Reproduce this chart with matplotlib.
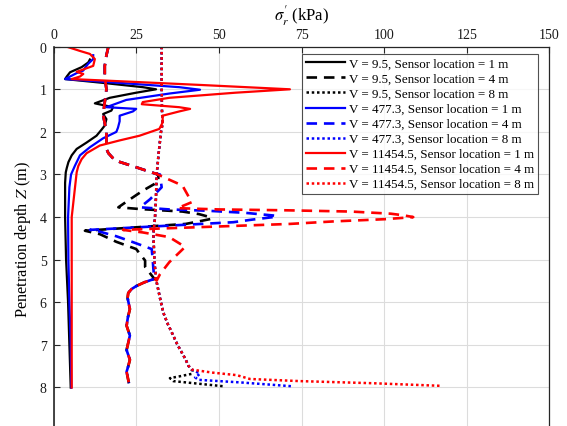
import matplotlib
matplotlib.use("Agg")
import matplotlib.pyplot as plt
import numpy as np

plt.rcParams['font.family'] = ['Liberation Serif', 'DejaVu Serif']
plt.rcParams['mathtext.fontset'] = 'stix'

# ---------------- data (depth Z in m, sigma'_r in kPa) ----------------
# Sensor location = 1 m
black1_z = [0.3, 0.37, 0.48, 0.6, 0.7, 0.76, 0.85, 0.95, 1.0, 1.08, 1.2, 1.33, 1.42, 1.5, 1.58, 1.7, 1.85, 1.95, 2.09, 2.25, 2.4, 2.55, 2.71, 2.85, 2.95, 3.2, 4.0, 5.0, 6.0, 7.0, 8.0]
black1_v = [11, 10.5, 8.5, 5, 4, 3.5, 15, 27, 31, 25, 17, 12.5, 18, 17.5, 15, 16, 15.5, 14.5, 13, 10, 7, 5.5, 4.5, 4, 3.7, 3.5, 3.5, 3.8, 4.4, 4.8, 5.2]

blue1_z = [0.2, 0.29, 0.4, 0.5, 0.56, 0.62, 0.7, 0.76, 0.85, 0.95, 1.01, 1.1, 1.25, 1.42, 1.46, 1.52, 1.62, 1.75, 1.9, 2.0, 2.15, 2.36, 2.55, 2.79, 3.0, 3.3, 4.0, 5.0, 6.0, 7.0, 8.0]
blue1_v = [12, 12, 10.5, 9.5, 9, 7, 5, 3.5, 20, 38, 44.3, 35, 22, 16, 25, 24, 20, 20, 19.5, 19, 15, 11, 8, 6.5, 5.3, 4.8, 4.4, 4.5, 4.8, 5.2, 5.4]

red1_z = [0, 0.1, 0.17, 0.29, 0.45, 0.52, 0.59, 0.64, 0.7, 0.76, 0.8, 0.9, 1.0, 1.08, 1.2, 1.3, 1.35, 1.42, 1.46, 1.52, 1.62, 1.78, 1.93, 2.09, 2.2, 2.32, 2.5, 2.64, 2.8, 2.95, 3.3, 4.0, 5.0, 6.0, 7.0, 8.0]
red1_v = [4, 8, 11, 12.5, 12, 9.5, 7, 9, 8, 5.5, 17, 45, 71.5, 55, 35, 27, 26.7, 38, 41.3, 38, 33, 33, 32, 26, 20, 14, 10, 8.5, 7.5, 7, 6.5, 5.5, 5.5, 5.5, 5.5, 5.5]

# Sensor location = 4 m (common upper and lower parts)
top4_z = [0, 0.2, 0.45, 0.7, 1.0, 1.3, 1.6, 2.0, 2.4, 2.5, 2.67, 2.83, 2.99]
top4_v = [16.6, 16, 15.5, 15.5, 16, 15.5, 15, 16, 16, 16.6, 18.6, 25, 31.2]
tail4_z = [5.45, 5.53, 5.62, 5.69, 5.78, 5.9, 6.16, 6.35, 6.55, 6.78, 6.95, 7.12, 7.35, 7.5, 7.63, 7.9]
tail4_v = [30.5, 27.5, 25, 23.6, 22.6, 22.4, 23.1, 22.5, 22.1, 23.1, 22.6, 22.1, 23.1, 22.6, 22.1, 22.8]

black4_z = [3.03, 3.17, 3.38, 3.61, 3.77, 3.81, 3.87, 3.93, 4.0, 4.04, 4.1, 4.16, 4.24, 4.32, 4.4, 4.58, 4.75, 5.02, 5.17, 5.3]
black4_v = [31.7, 31.7, 27, 22.6, 19.6, 26, 39, 44, 47.3, 47.8, 44, 40, 25, 9.5, 14, 19, 25, 27.7, 27.7, 29]

blue4_z = [3.0, 3.3, 3.58, 3.77, 3.82, 3.85, 3.9, 3.97, 4.0, 4.06, 4.12, 4.2, 4.3, 4.32, 4.45, 4.59, 4.75, 5.0, 5.22]
blue4_v = [32.2, 32.7, 29.2, 26.2, 35, 46.3, 58, 67.5, 66.5, 60, 54.4, 35, 11, 13, 19, 24.1, 29.7, 30, 30.2]

red4_z = [3.26, 3.4, 3.65, 3.79, 3.82, 3.84, 3.87, 3.92, 3.96, 4.0, 4.05, 4.1, 4.16, 4.22, 4.28, 4.3, 4.36, 4.47, 4.7, 5.06, 5.34]
red4_v = [39, 40, 41.8, 37.5, 50, 70, 90, 102, 106, 108.8, 100, 85, 71.5, 50, 28, 21, 27, 35, 39.8, 35, 32.2]

# Sensor location = 8 m (common part)
common8_z = [0, 0.5, 1.0, 1.5, 1.8, 2.0, 2.5, 3.0, 3.5, 4.0, 4.4, 5.0, 5.2, 5.53, 5.9, 6.24, 6.5, 6.78, 7.0, 7.18, 7.35, 7.49, 7.58]
common8_v = [32.7, 32.7, 32.7, 32.8, 33, 32.5, 31.8, 31.2, 31, 30.7, 30.2, 30.5, 30.7, 31.2, 32.2, 33.2, 34.5, 36.2, 37.5, 38.8, 40, 40.8, 41.8]
black8_z = [7.62, 7.68, 7.74, 7.78, 7.85, 7.92, 7.97]
black8_v = [42, 41.8, 38, 35.2, 36.2, 45, 51.3]
blue8_z = [7.62, 7.68, 7.76, 7.82, 7.88, 7.97]
blue8_v = [43, 44.3, 42.8, 43.8, 56.4, 72]
red8_z = [7.65, 7.71, 7.8, 7.85, 7.9, 7.96]
red8_v = [48, 55.4, 59.4, 74.5, 96.7, 116.9]

volumes = ['9.5', '477.3', '11454.5']
locations = ['1', '4', '8']
x_ticks = [0, 25, 50, 75, 100, 125, 150]
y_ticks = list(range(0, 10))

# ---------------- build series ----------------
s4 = {
    'black': (top4_z + black4_z + tail4_z, top4_v + black4_v + tail4_v),
    'blue': (top4_z + blue4_z + [5.44] + tail4_z, top4_v + blue4_v + [30.5] + tail4_v),
    'red': (top4_z + red4_z + [5.49] + tail4_z, top4_v + red4_v + [31.2] + tail4_v),
}
s1 = {'black': (black1_z, black1_v), 'blue': (blue1_z, blue1_v), 'red': (red1_z, red1_v)}
s8 = {
    'black': (common8_z + black8_z, common8_v + black8_v),
    'blue': (common8_z + blue8_z, common8_v + blue8_v),
    'red': (common8_z + red8_z, common8_v + red8_v),
}

fig = plt.figure(figsize=(5.67, 4.27), dpi=100)
ax = fig.add_axes([0.0944, -0.0096, 0.8747, 0.8979])

colors = {'black': 'black', 'blue': (0, 0, 1), 'red': (1, 0, 0)}
lw = 1.6
for vol, c in zip(volumes, ['black', 'blue', 'red']):
    z, v = s1[c]
    ax.plot(v, z, color=colors[c], lw=lw, linestyle='-',
            label=f'V = {vol}, Sensor location = {locations[0]} m')
    z, v = s4[c]
    ax.plot(v, z, color=colors[c], lw=lw + 0.3, linestyle=(0, (4, 2.6)),
            label=f'V = {vol}, Sensor location = {locations[1]} m')
    z, v = s8[c]
    ax.plot(v, z, color=colors[c], lw=lw + 0.2, linestyle=(0, (1, 1.1)),
            label=f'V = {vol}, Sensor location = {locations[2]} m')

ax.set_xlim(0, 150)
ax.set_ylim(9, 0)
ax.set_xticks(x_ticks)
ax.set_yticks(y_ticks)
ax.xaxis.tick_top()
ax.xaxis.set_label_position('top')
ax.tick_params(direction='in', length=4, width=0.8, colors='#262626',
               labelsize=10, labelcolor='#1a1a1a', pad=5)
ax.tick_params(axis='x', pad=4)
ax.grid(True, color='#dcdcdc', lw=0.8)
ax.set_axisbelow(True)
for sp in ax.spines.values():
    sp.set_color('#262626')
    sp.set_linewidth(0.9)
ax.spines['left'].set_linewidth(1.2)

ax.set_xlabel(r"$\sigma^{\prime}_{r}$ (kPa)", fontsize=12, labelpad=6)
ax.set_ylabel(r"Penetration depth $Z$ (m)", fontsize=11.8, labelpad=5)

leg = ax.legend(loc='upper right', bbox_to_anchor=(0.9775, 0.981), fontsize=9.4,
                frameon=True, fancybox=False, edgecolor='#262626',
                handlelength=3.0, handletextpad=0.3, borderpad=0.3,
                labelspacing=0.22, borderaxespad=0.0)
leg.get_frame().set_linewidth(0.8)

fig.savefig('out.png', dpi=100)
